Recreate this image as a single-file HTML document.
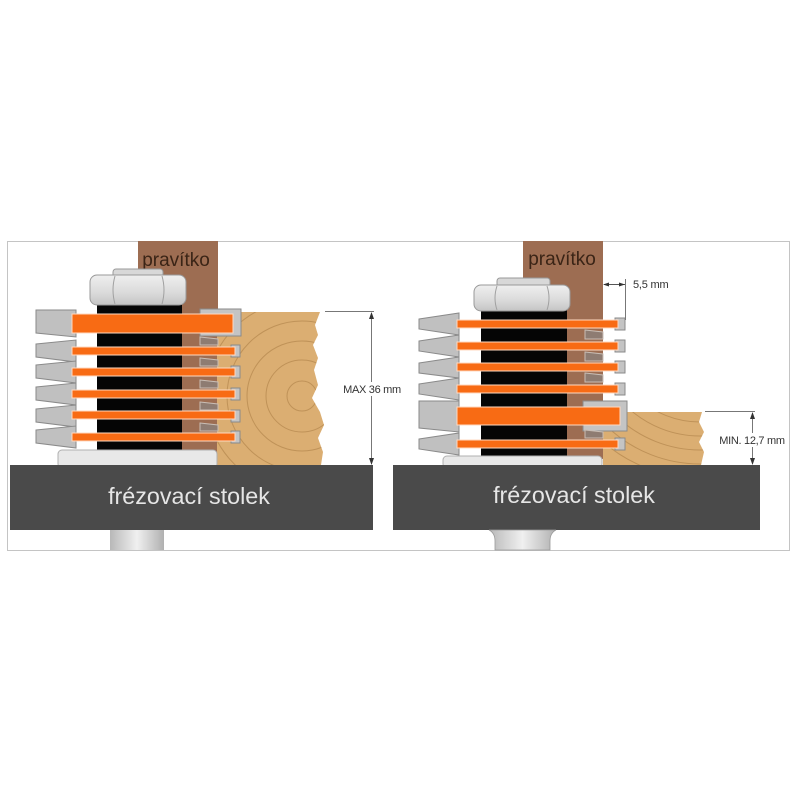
<!DOCTYPE html>
<html><head><meta charset="utf-8"><style>
html,body{margin:0;padding:0;background:#fff;}
svg{display:block;}
text{font-family:"Liberation Sans",Arial,sans-serif;}
</style></head><body>
<svg width="800" height="800" viewBox="0 0 800 800" xmlns="http://www.w3.org/2000/svg">
<defs>
<linearGradient id="nutg" x1="0" y1="0" x2="0" y2="1">
<stop offset="0" stop-color="#efefef"/><stop offset="0.6" stop-color="#dadada"/><stop offset="1" stop-color="#c4c4c4"/>
</linearGradient>
<linearGradient id="shg" x1="0" y1="0" x2="1" y2="0">
<stop offset="0" stop-color="#b8b8b8"/><stop offset="0.5" stop-color="#f0f0f0"/><stop offset="1" stop-color="#b0b0b0"/>
</linearGradient>
<clipPath id="woodL"><polygon points="217,312 320,312 315,325 318,335 313,345 318,358 314,370 318,385 312,398 320,412 324,425 318,438 323,452 321,465 217,465"/></clipPath>
<clipPath id="woodR"><polygon points="603,412 702,412 699,422 704,432 699,442 704,452 701,465 603,465"/></clipPath>
</defs>

<!-- frame -->
<rect x="7.5" y="241.5" width="782" height="309" fill="#fff" stroke="#c4c4c4" stroke-width="1"/>

<!-- ===== LEFT PANEL ===== -->
<rect x="138" y="241" width="80" height="212" fill="#9d6d52"/>
<text x="176" y="266" font-size="19" fill="#3a2416" text-anchor="middle">pravítko</text>

<!-- wood -->
<polygon points="217,312 320,312 315,325 318,335 313,345 318,358 314,370 318,385 312,398 320,412 324,425 318,438 323,452 321,465 217,465" fill="#dbae72"/>
<g clip-path="url(#woodL)" fill="none" stroke="#bf9258" stroke-width="1">
<circle cx="302" cy="396" r="15"/>
<circle cx="302" cy="396" r="36"/>
<circle cx="302" cy="396" r="55"/>
<circle cx="302" cy="396" r="75"/>
<circle cx="302" cy="396" r="96"/>
<circle cx="302" cy="396" r="118"/>
</g>

<!-- black shaft -->
<rect x="97" y="305" width="85" height="145" fill="#050505"/>

<!-- left blades -->
<g fill="#c0c0c0" stroke="#8a8a8a" stroke-width="1">
<polygon points="36,310 76,310 76,337 36,333"/>
<polygon points="36,344 76,340 76,362 36,357"/>
<polygon points="36,365 76,361 76,383 36,378"/>
<polygon points="36,387 76,383 76,405 36,400"/>
<polygon points="36,409 76,405 76,427 36,422"/>
<polygon points="36,430 76,426 76,448 36,443"/>
</g>

<!-- right blade bodies -->
<rect x="200" y="309" width="41" height="27" fill="#c4c4c4" stroke="#8a8a8a"/>
<g fill="#8e7c72" stroke="#c9bdb4" stroke-width="1">
<polygon points="200,337 218,339 218,345 200,345"/>
<polygon points="200,358 218,360 218,366 200,366"/>
<polygon points="200,380 218,382 218,388 200,388"/>
<polygon points="200,402 218,404 218,410 200,410"/>
<polygon points="200,423 218,425 218,431 200,431"/>
</g>
<g fill="#c4c4c4" stroke="#8a8a8a" stroke-width="1">
<rect x="231" y="345" width="9" height="12"/>
<rect x="231" y="366" width="9" height="12"/>
<rect x="231" y="388" width="9" height="12"/>
<rect x="231" y="410" width="9" height="12"/>
<rect x="231" y="431" width="9" height="12"/>
</g>

<!-- orange bars -->
<g fill="#f86b14" stroke="#ffd9c0" stroke-width="1">
<rect x="72" y="314" width="161" height="19"/>
<rect x="72" y="347" width="163" height="8"/>
<rect x="72" y="368" width="163" height="8"/>
<rect x="72" y="390" width="163" height="8"/>
<rect x="72" y="411" width="163" height="8"/>
<rect x="72" y="433" width="163" height="8"/>
</g>

<!-- nut -->
<rect x="113" y="269" width="50" height="9" rx="3" fill="#d8d8d8" stroke="#999"/>
<rect x="90" y="275" width="96" height="30" rx="7" fill="url(#nutg)" stroke="#999"/>
<path d="M115,276 Q111,290 115,304 M162,276 Q166,290 162,304" fill="none" stroke="#a0a0a0"/>

<!-- base plate -->
<rect x="58" y="450" width="159" height="18" rx="4" fill="#e8e8e8" stroke="#b0b0b0"/>

<!-- table -->
<rect x="10" y="465" width="363" height="65" fill="#4a4a4a"/>
<text x="189" y="504" font-size="23.3" fill="#e6e6e6" text-anchor="middle">frézovací stolek</text>
<rect x="110" y="530" width="54" height="20" fill="url(#shg)"/>

<!-- dimension MAX -->
<line x1="325" y1="311.5" x2="374" y2="311.5" stroke="#777" stroke-width="1"/>
<line x1="371.5" y1="313" x2="371.5" y2="464" stroke="#777" stroke-width="1"/>
<polygon points="371.5,312 369,319 374,319" fill="#333"/>
<polygon points="371.5,465 369,458 374,458" fill="#333"/>
<rect x="340" y="382" width="64" height="14" fill="#fff"/>
<text x="372" y="393" font-size="11" fill="#333" text-anchor="middle" letter-spacing="-0.3">MAX 36 mm</text>

<!-- ===== RIGHT PANEL ===== -->
<rect x="523" y="241" width="80" height="218" fill="#9d6d52"/>
<text x="562" y="265" font-size="19" fill="#3a2416" text-anchor="middle">pravítko</text>

<!-- wood -->
<polygon points="603,412 702,412 699,422 704,432 699,442 704,452 701,465 603,465" fill="#dbae72"/>
<g clip-path="url(#woodR)" fill="none" stroke="#bf9258" stroke-width="1">
<circle cx="700" cy="330" r="92"/>
<circle cx="700" cy="330" r="106"/>
<circle cx="700" cy="330" r="120"/>
<circle cx="700" cy="330" r="134"/>
<circle cx="700" cy="330" r="148"/>
</g>

<!-- black shaft -->
<rect x="481" y="310" width="86" height="151" fill="#050505"/>

<!-- left blades -->
<g fill="#c0c0c0" stroke="#8a8a8a" stroke-width="1">
<polygon points="419,319 459,313 459,335 419,329"/>
<polygon points="419,341 459,335 459,357 419,351"/>
<polygon points="419,363 459,357 459,378 419,373"/>
<polygon points="419,384 459,378 459,400 419,394"/>
<polygon points="419,401 459,401 459,432 419,428"/>
<polygon points="419,439 459,433 459,455 419,449"/>
</g>

<!-- right blade bodies -->
<rect x="583" y="401" width="44" height="30" fill="#c4c4c4" stroke="#8a8a8a"/>
<g fill="#8e7c72" stroke="#c9bdb4" stroke-width="1">
<polygon points="585,330 603,332 603,339 585,339"/>
<polygon points="585,352 603,354 603,361 585,361"/>
<polygon points="585,373 603,375 603,382 585,382"/>
<polygon points="585,430 603,432 603,438 585,438"/>
</g>
<g fill="#c4c4c4" stroke="#8a8a8a" stroke-width="1">
<rect x="615" y="318" width="10" height="12"/>
<rect x="615" y="340" width="10" height="12"/>
<rect x="615" y="361" width="10" height="12"/>
<rect x="615" y="383" width="10" height="12"/>
<rect x="615" y="438" width="10" height="12"/>
</g>

<!-- orange bars -->
<g fill="#f86b14" stroke="#ffd9c0" stroke-width="1">
<rect x="457" y="320" width="161" height="8"/>
<rect x="457" y="342" width="161" height="8"/>
<rect x="457" y="363" width="161" height="8"/>
<rect x="457" y="385" width="161" height="8"/>
<rect x="457" y="407" width="163" height="18"/>
<rect x="457" y="440" width="161" height="8"/>
</g>

<!-- nut -->
<rect x="497" y="278" width="53" height="9" rx="3" fill="#d8d8d8" stroke="#999"/>
<rect x="474" y="285" width="96" height="26" rx="7" fill="url(#nutg)" stroke="#999"/>
<path d="M497,286 Q493,298 497,310 M547,286 Q551,298 547,310" fill="none" stroke="#a0a0a0"/>

<!-- base plate -->
<rect x="443" y="456" width="159" height="12" rx="4" fill="#e8e8e8" stroke="#b0b0b0"/>

<!-- table -->
<rect x="393" y="465" width="367" height="65" fill="#4a4a4a"/>
<text x="574" y="503" font-size="23.3" fill="#e6e6e6" text-anchor="middle">frézovací stolek</text>
<path d="M489,530 Q495,533 495,541 L495,550 L550,550 L550,541 Q550,533 556,530 Z" fill="url(#shg)" stroke="#9a9a9a" stroke-width="0.8"/>

<!-- dimension 5,5 -->
<line x1="625.5" y1="279" x2="625.5" y2="320" stroke="#777" stroke-width="1"/>
<line x1="604" y1="284.5" x2="625" y2="284.5" stroke="#555" stroke-width="1"/>
<polygon points="603,284.5 609,282.5 609,286.5" fill="#333"/>
<polygon points="625,284.5 619,282.5 619,286.5" fill="#333"/>
<text x="633" y="288" font-size="11" fill="#333" letter-spacing="-0.2">5,5 mm</text>

<!-- dimension MIN -->
<line x1="705" y1="411.5" x2="755" y2="411.5" stroke="#777" stroke-width="1"/>
<line x1="752.5" y1="413" x2="752.5" y2="464" stroke="#777" stroke-width="1"/>
<polygon points="752.5,412 750,419 755,419" fill="#333"/>
<polygon points="752.5,465 750,458 755,458" fill="#333"/>
<rect x="715" y="433" width="74" height="14" fill="#fff"/>
<text x="752" y="444" font-size="11" fill="#333" text-anchor="middle" letter-spacing="-0.3">MIN. 12,7 mm</text>
</svg>
</body></html>
